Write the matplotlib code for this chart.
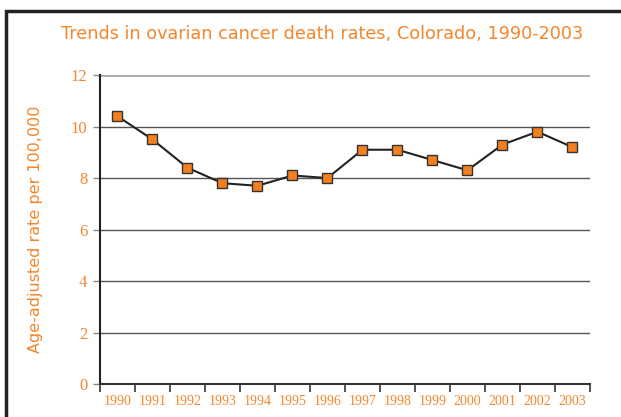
import numpy as np
import matplotlib.pyplot as plt
from matplotlib.patches import Rectangle

# Ovarian cancer death rates, Colorado
years = ['1990', '1991', '1992', '1993', '1994', '1995', '1996',
         '1997', '1998', '1999', '2000', '2001', '2002', '2003']
rates = [10.4, 9.5, 8.4, 7.8, 7.7, 8.1, 8.0, 9.1, 9.1, 8.7, 8.3, 9.3, 9.8, 9.2]
y_ticks = [0, 2, 4, 6, 8, 10, 12]

orange = '#F4862C'
marker_orange = '#F47F1F'

fig = plt.figure(figsize=(6.21, 4.17), dpi=100)
ax = fig.add_axes([0.161, 0.079, 0.789, 0.741])

# outer box around the whole figure (cut off at right and bottom)
fig.patches.append(Rectangle((6 / 621, -0.1), 1.1, 1.1 - 11 / 417,
                             transform=fig.transFigure, fill=False,
                             edgecolor='#222222', linewidth=2.5, clip_on=False))

x = np.arange(len(years)) + 0.5

# gridlines
for v in y_ticks[1:-1]:
    ax.axhline(v, color='#555555', linewidth=1.0, zorder=1)
ax.axhline(12, color='#aaaaaa', linewidth=2.0, zorder=1)

ax.plot(x, rates, color='#222222', linewidth=1.5, marker='s', markersize=7,
        markerfacecolor=marker_orange, markeredgecolor='#333333',
        markeredgewidth=1.0, zorder=3)

ax.set_xlim(0, len(years))
ax.set_ylim(0, 12)

ax.set_xticks(np.arange(len(years) + 1))
ax.set_xticklabels([])
ax.set_xticks(x, minor=True)
ax.set_xticklabels(years, minor=True, color=orange, fontsize=10,
                   family='Liberation Serif')
ax.tick_params(axis='x', which='major', length=6, width=1.2, color='#333333',
               direction='out')
ax.tick_params(axis='x', which='minor', length=0, pad=8)

ax.set_yticks(y_ticks)
ax.set_yticklabels([str(v) for v in y_ticks], color=orange, fontsize=12,
                   family='Liberation Serif')
ax.tick_params(axis='y', length=5, width=1.0, color='#888888', pad=4)

for side in ['top', 'right']:
    ax.spines[side].set_visible(False)
ax.spines['left'].set_color('#222222')
ax.spines['left'].set_linewidth(1.5)
ax.spines['bottom'].set_color('#333333')
ax.spines['bottom'].set_linewidth(1.5)

ax.set_ylabel('Age-adjusted rate per 100,000', color=orange, fontsize=11.5,
              family='DejaVu Sans', labelpad=20)
fig.text(0.518, 0.918, 'Trends in ovarian cancer death rates, Colorado, 1990-2003',
         color=orange, fontsize=12.7, family='DejaVu Sans', ha='center',
         va='center')

plt.savefig('out.png', dpi=100)
